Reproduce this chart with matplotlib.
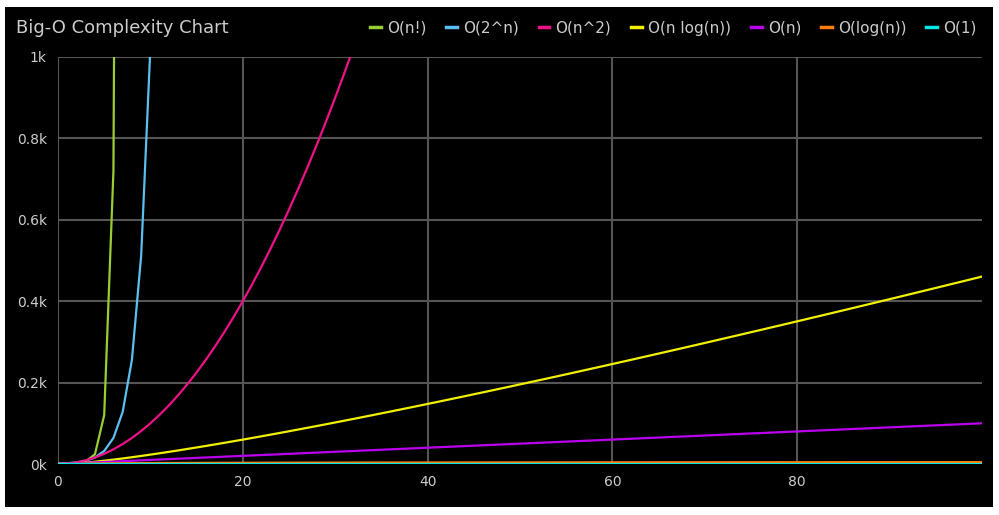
import math
import matplotlib
matplotlib.use("Agg")
import matplotlib.pyplot as plt
from matplotlib.patches import Rectangle

n = list(range(0, 101))
labels = ["O(n!)", "O(2^n)", "O(n^2)", "O(n log(n))", "O(n)", "O(log(n))", "O(1)"]
colors = ["#9acd32", "#5bc0f0", "#ee1188", "#f0f000", "#bb00ee", "#ff7f0e", "#00e5e5"]
fact = [float(math.factorial(k)) if k < 12 else 1e9 for k in n]
pow2 = [float(2 ** k) if k < 30 else 1e9 for k in n]
sq = [k * k for k in n]
nlogn = [k * math.log(k) if k > 0 else 0 for k in n]
lin = [k for k in n]
logn = [math.log(k) if k > 0 else 0 for k in n]
const = [1 for k in n]
series = [fact, pow2, sq, nlogn, lin, logn, const]

W, H = 999, 515
fig = plt.figure(figsize=(W / 100, H / 100), dpi=100, facecolor="white")
fig.patches.append(Rectangle((5 / W, 8 / H), 988 / W, 500 / H, transform=fig.transFigure,
                             facecolor="black", edgecolor="none", zorder=-10))
ax = fig.add_axes([58 / W, (H - 464) / H, (982 - 58) / W, (464 - 57) / H])
ax.set_facecolor("black")
for y, c, lab in zip(series, colors, labels):
    ax.plot(n, y, color=c, lw=1.6, label=lab)
ax.set_xlim(0, 100)
ax.set_ylim(0, 1000)
ax.set_xticks([0, 20, 40, 60, 80])
ax.set_yticks([0, 200, 400, 600, 800, 1000])
ax.set_yticklabels(["0k", "0.2k", "0.4k", "0.6k", "0.8k", "1k"])
ax.grid(True, color="#555555", lw=1.5)
ax.set_axisbelow(True)
for s in ax.spines.values():
    s.set_visible(False)
ax.tick_params(colors="#cccccc", labelsize=10, length=0, pad=8)
fig.text(16 / W, 1 - 28 / H, "Big-O Complexity Chart", color="#cccccc", fontsize=13, va="center")
leg = fig.legend(loc="center right", bbox_to_anchor=(990 / W, 1 - 28 / H), ncol=7, frameon=False,
                 handlelength=0.7, handletextpad=0.4, columnspacing=1.3, fontsize=11)
for t in leg.get_texts():
    t.set_color("#cccccc")
for l in leg.get_lines():
    l.set_linewidth(2.5)
fig.savefig("out.png", dpi=100, facecolor="white")
